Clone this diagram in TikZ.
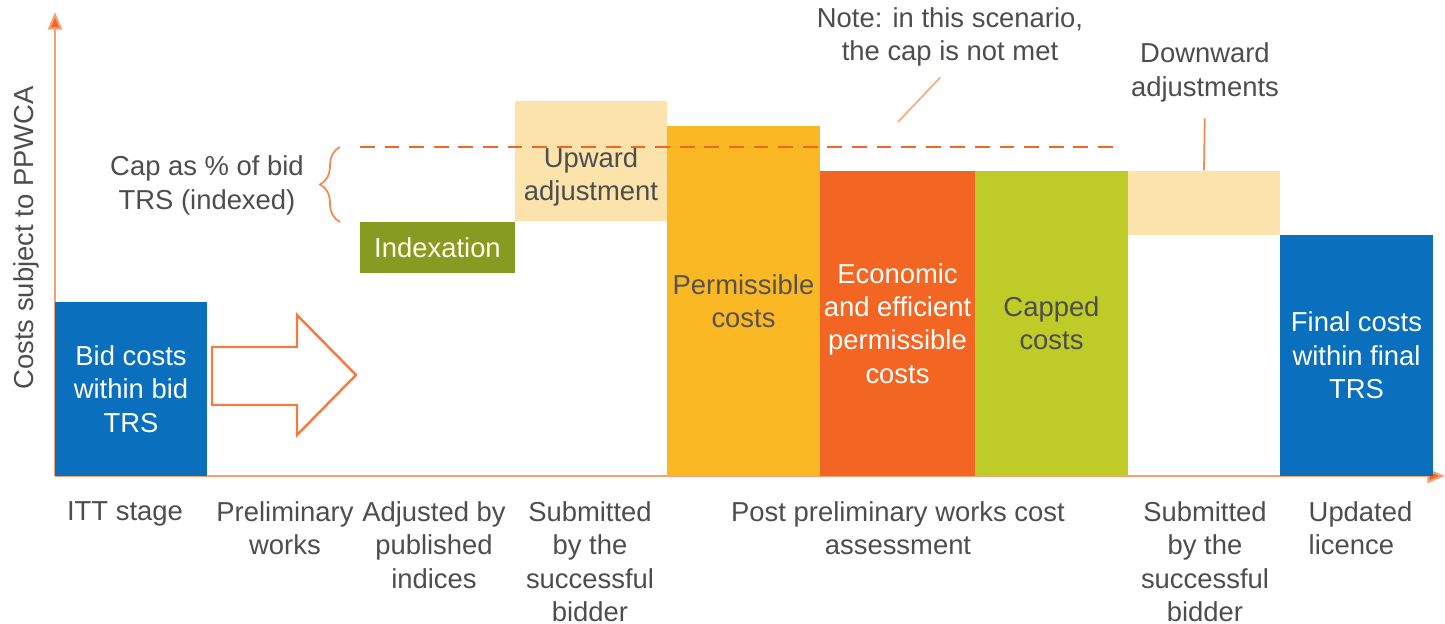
\documentclass[tikz,border=0pt]{standalone}
\usepackage{fontspec}
\setmainfont{Liberation Sans}
\usetikzlibrary{arrows.meta,decorations.pathreplacing}
\definecolor{bidblue}{HTML}{0A70BD}
\definecolor{idxgreen}{HTML}{879A22}
\definecolor{peach}{HTML}{FCE3AC}
\definecolor{amber}{HTML}{FAB824}
\definecolor{econorange}{HTML}{F26522}
\definecolor{capgreen}{HTML}{BFCB26}
\definecolor{axisorange}{HTML}{F08A50}
\definecolor{labgray}{HTML}{4D4D4D}
\newcommand\labfont{\fontsize{7.8}{9.5}\selectfont}
\tikzset{
  bar/.style={rectangle,inner sep=0,align=center,font=\labfont},
  lab/.style={inner sep=0,align=center,font=\labfont,text=labgray},
  lead/.style={draw=axisorange,line width=0.5pt},
  axis/.style={draw=axisorange!80,line width=0.6pt,-{Triangle[length=5pt,width=4pt,fill=econorange]}}
}

\begin{document}
\begin{tikzpicture}
\useasboundingbox (0,0) rectangle (14.45,6.24);

%axes
\draw[axis](.55,1.48)--(.55,6.12);
\draw[axis](.55,1.48)--(14.45,1.48);
\node[lab,rotate=90] (ylab) at (.26,3.86) {Costs subject to PPWCA};

%bars
\node[bar,fill=bidblue,text=white,minimum width=1.52cm,minimum height=1.74cm] (bid) at (1.31,2.35) {Bid costs\\within bid\\TRS};
\node[bar,fill=idxgreen,text=yellow!8,minimum width=1.55cm,minimum height=.51cm] (idx) at (4.375,3.765) {Indexation};
\node[bar,fill=peach,minimum width=1.52cm,minimum height=1.2cm] (upw) at (5.91,4.63) {};
\node[bar,text=labgray] (upwtxt) at (5.91,4.47) {Upward\\adjustment};
\node[bar,fill=amber,text=labgray!90!brown,minimum width=1.53cm,minimum height=3.5cm] (perm) at (7.435,3.23) {Permissible\\costs};
\node[bar,fill=econorange,text=white,minimum width=1.55cm,minimum height=3.05cm] (econ) at (8.975,3.005) {Economic\\and efficient\\permissible\\costs};
\node[bar,fill=capgreen,text=labgray,minimum width=1.53cm,minimum height=3.05cm] (capd) at (10.515,3.005) {Capped\\costs};
\node[bar,fill=peach,minimum width=1.52cm,minimum height=.64cm] (dadj) at (12.04,4.21) {};
\node[bar,fill=bidblue,text=white,minimum width=1.53cm,minimum height=2.41cm] (final) at (13.565,2.685) {Final costs\\within final\\TRS};

%hollow arrow
\draw[econorange!85!white,line width=0.7pt,line join=miter](2.12,2.77)--(2.97,2.77)--(2.97,3.09)--(3.56,2.49)--(2.97,1.89)--(2.97,2.19)--(2.12,2.19)--cycle;

%cap line and brace
\draw[econorange,line width=0.8pt,dash pattern=on 4.2pt off 2.8pt](3.60,4.77)--(11.20,4.77);
\draw[axisorange,line width=0.5pt,decorate,decoration={brace,amplitude=.2cm}](3.40,4.02)--(3.40,4.77);
\node[lab] (cap) at (2.07,4.385) {Cap as \% of bid\\TRS (indexed)};

%notes
\node[lab] (note) at (9.50,5.87) {Note: in this scenario,\\the cap is not met};
\coordinate (capnote) at (8.98,5.02);
\draw[lead,draw=axisorange!70,shorten <=4pt](note.south)--(capnote);
\node[lab] (down) at (12.05,5.515) {Downward\\adjustments};
\draw[lead,shorten <=4.5pt](down.south)--(dadj.north);

%stage labels
\node[lab,anchor=north] (itt) at (1.25,1.23) {ITT stage};
\node[lab,anchor=north] (prelim) at (2.85,1.23) {Preliminary\\works};
\node[lab,anchor=north] (adj) at (4.34,1.23) {Adjusted by\\published\\indices};
\node[lab,anchor=north] (sub1) at (5.90,1.23) {Submitted\\by the\\successful\\bidder};
\node[lab,anchor=north] (post) at (8.98,1.23) {Post preliminary works cost\\assessment};
\node[lab,anchor=north] (sub2) at (12.05,1.23) {Submitted\\by the\\successful\\bidder};
\node[lab,anchor=north west,align=left] (upd) at (13.08,1.23) {Updated\\licence};

\end{tikzpicture}
\end{document}
